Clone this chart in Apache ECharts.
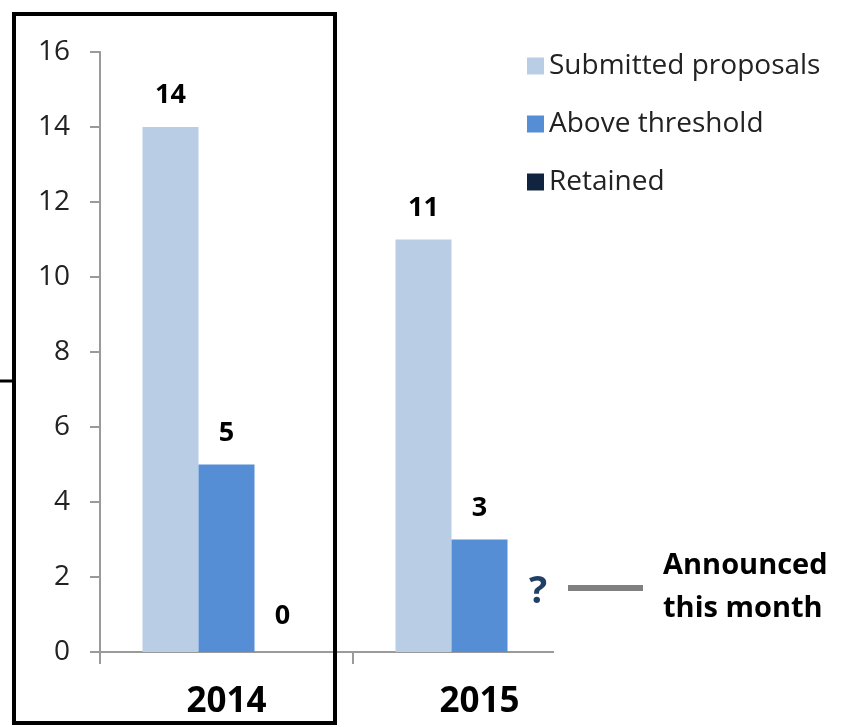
<!DOCTYPE html>
<html><head><meta charset="utf-8">
<script src="https://cdn.jsdelivr.net/npm/echarts@6/dist/echarts.min.js"></script>
<style>html,body{margin:0;padding:0;background:#fff}#c{width:846px;height:727px}</style>
</head><body><div id="c"></div>
<script>
var categories = ['2014', '2015'];
var submitted = [14, 11];
var aboveThreshold = [5, 3];
var retained = [0, null];
var yTicks = [0, 2, 4, 6, 8, 10, 12, 14, 16];

var chart = echarts.init(document.getElementById('c'));
var font = "'Open Sans', 'Noto Sans', sans-serif";
var lbl = {show: true, position: 'top', distance: 18, color: '#000', fontWeight: 'bold', fontSize: 27, fontFamily: font};
chart.setOption({
  animation: false,
  grid: {left: 100, right: 240, top: 52, bottom: 75},
  legend: {
    orient: 'vertical', left: 522, top: 47, itemWidth: 17, itemHeight: 17, itemGap: 30,
    icon: 'rect',
    textStyle: {fontSize: 28, color: '#222', fontFamily: font, padding: [0, 0, 0, 0]},
    data: ['Submitted proposals', 'Above threshold', 'Retained']
  },
  xAxis: {
    type: 'category', data: categories,
    axisLine: {lineStyle: {color: '#9a9a9a', width: 2}},
    axisTick: {show: true, length: 12, lineStyle: {color: '#9a9a9a', width: 2}},
    axisLabel: {fontSize: 35, fontWeight: 'bold', color: '#000', margin: 33, fontFamily: font}
  },
  yAxis: {
    type: 'value', min: 0, max: 16, interval: 2,
    axisLine: {show: true, lineStyle: {color: '#9a9a9a', width: 2}},
    axisTick: {show: true, inside: false, length: 10, lineStyle: {color: '#9a9a9a', width: 2}},
    splitLine: {show: false},
    axisLabel: {fontSize: 28, color: '#222', margin: 30, fontFamily: font,
      formatter: function (v) { return yTicks.indexOf(v) >= 0 ? String(v) : ''; }}
  },
  series: [
    {name: 'Submitted proposals', type: 'bar', data: submitted, barWidth: 56, barGap: '0%', itemStyle: {color: '#b9cde5'}, label: lbl},
    {name: 'Above threshold', type: 'bar', data: aboveThreshold, barWidth: 56, barGap: '0%', itemStyle: {color: '#558ed5'}, label: lbl},
    {name: 'Retained', type: 'bar', data: retained, barWidth: 56, barGap: '0%', itemStyle: {color: '#10243f'}, label: Object.assign({}, lbl, {distance: 22})}
  ],
  graphic: [
    {type: 'rect', shape: {x: 554, y: 645, width: 60, height: 25}, style: {fill: '#fff'}, z: 100},
    {type: 'rect', shape: {x: 14, y: 14, width: 321, height: 709}, style: {fill: 'none', stroke: '#000', lineWidth: 4}, z: 101},
    {type: 'line', shape: {x1: 0, y1: 381, x2: 14, y2: 381}, style: {stroke: '#000', lineWidth: 3}, z: 101},
    {type: 'text', x: 538, y: 592, style: {text: '?', fontSize: 38, fontWeight: 'bold', fill: '#1f3f66', fontFamily: font, align: 'center', verticalAlign: 'middle'}, z: 101},
    {type: 'line', shape: {x1: 568, y1: 588, x2: 643, y2: 588}, style: {stroke: '#808080', lineWidth: 6}, z: 101},
    {type: 'text', x: 663, y: 566, style: {text: 'Announced', fontSize: 29, fontWeight: 'bold', fill: '#000', fontFamily: font, verticalAlign: 'middle'}, z: 101},
    {type: 'text', x: 663, y: 609, style: {text: 'this month', fontSize: 29, fontWeight: 'bold', fill: '#000', fontFamily: font, verticalAlign: 'middle'}, z: 101}
  ]
});
</script></body></html>
